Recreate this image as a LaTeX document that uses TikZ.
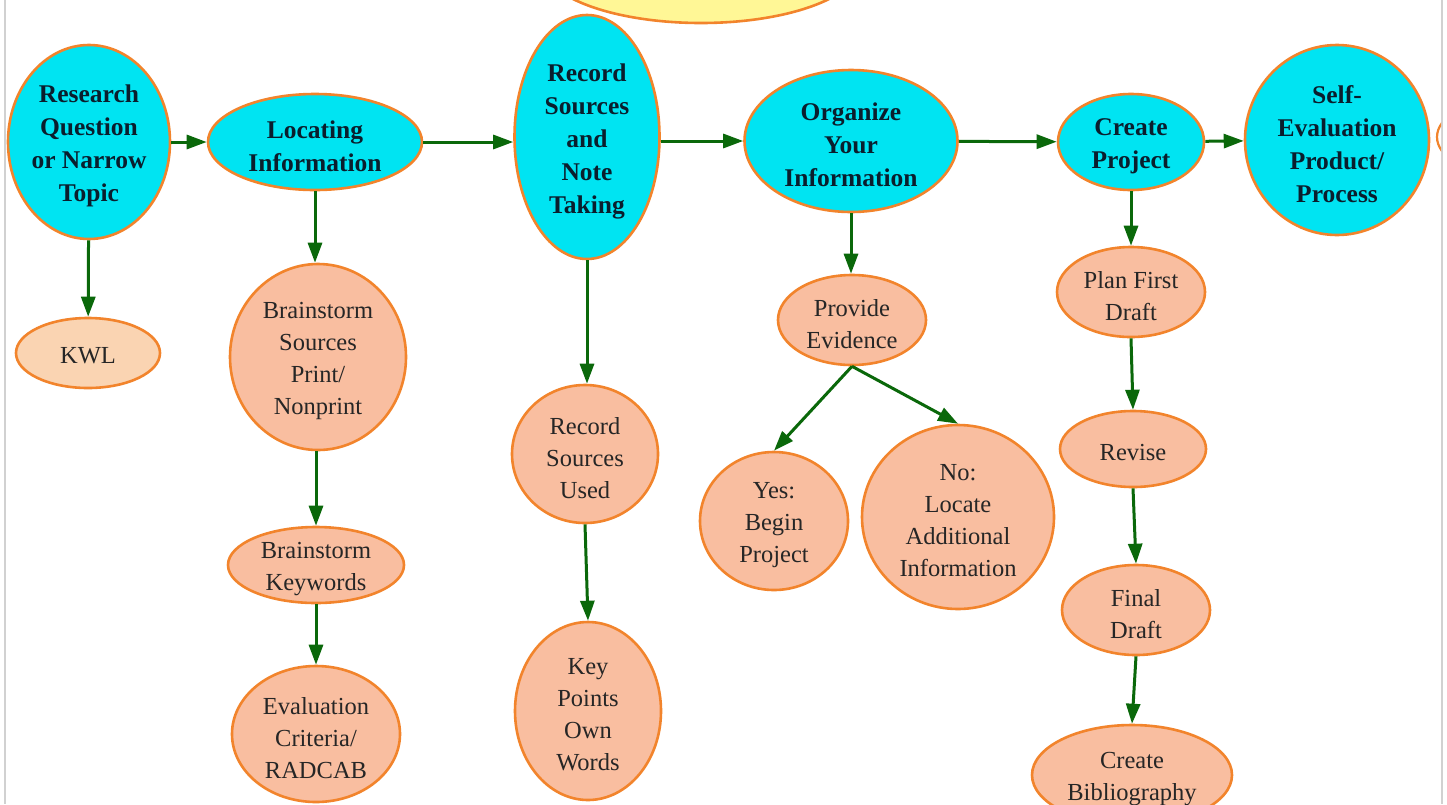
\documentclass[tikz,border=0pt]{standalone}
\usepackage{fontspec}
\setmainfont{Liberation Serif}
\usetikzlibrary{shapes.geometric,arrows.meta}
\definecolor{cyanfill}{RGB}{0,228,242}
\definecolor{salmon}{RGB}{249,190,160}
\definecolor{peach}{RGB}{250,212,178}
\definecolor{orbord}{RGB}{242,132,44}
\definecolor{arrgreen}{RGB}{10,104,10}
\definecolor{navytext}{RGB}{10,30,45}
\definecolor{yellowfill}{RGB}{255,247,150}
\tikzset{
  mainnode/.style={ellipse, draw=orbord, line width=2.6pt, fill=cyanfill, inner sep=0pt},
  subnode/.style={ellipse, draw=orbord, line width=2.6pt, fill=salmon, inner sep=0pt},
  maintext/.style={inner sep=0pt, align=center, text=navytext, font=\fontsize{25.5}{33}\selectfont\bfseries},
  subtext/.style={inner sep=0pt, align=center, text=black!85, font=\fontsize{24.5}{32}\selectfont},
  flow/.style={draw=arrgreen, line width=3pt, -{Triangle[length=20pt,width=14pt]}},
}
\begin{document}
\begin{tikzpicture}[x=1pt,y=-1pt]
\useasboundingbox (0,0) rectangle (1447,804);
\fill[white] (0,0) rectangle (1447,804);
\draw[black!18, line width=1.2pt] (5,0) -- (5,804);
\draw[black!18, line width=1.2pt] (1442,0) -- (1442,804);
\begin{scope}
\clip (0,0) rectangle (1447,804);
\draw[orbord, line width=2.6pt, fill=yellowfill] (701,-37) ellipse [x radius=160, y radius=60];
\end{scope}
\begin{scope}
\clip (1430,0) rectangle (1441,804);
\draw[orbord, line width=2.2pt, fill=white] (1500,137) ellipse [x radius=63, y radius=36];
\end{scope}

% main row
\node[mainnode, minimum width=162, minimum height=194] (rq) at (89,142) {};
\node[mainnode, minimum width=214, minimum height=96] (loc) at (315,142) {};
\node[mainnode, minimum width=145, minimum height=244] (rec) at (587,137) {};
\node[mainnode, minimum width=213, minimum height=142] (org) at (851,141) {};
\node[mainnode, minimum width=146, minimum height=96] (cp) at (1131,142) {};
\node[mainnode, minimum width=184, minimum height=190] (se) at (1337,140) {};
\node[maintext] (rqt) at ([yshift=-4pt]rq.center) {Research\\Question\\or Narrow\\Topic};
\node[maintext] (loct) at ([yshift=-4pt]loc.center) {Locating\\Information};
\node[maintext] (rect) at ([yshift=-4pt]rec.center) {Record\\Sources\\and\\Note\\Taking};
\node[maintext] (orgt) at ([yshift=-4pt]org.center) {Organize\\Your\\Information};
\node[maintext] (cpt) at ([yshift=-4pt]cp.center) {Create\\Project};
\node[maintext] (set) at ([yshift=-4pt]se.center) {Self-\\Evaluation\\Product/\\Process};

% sub nodes
\node[subnode, fill=peach, minimum width=144, minimum height=70] (kwl) at (88,353) {};
\node[subnode, minimum width=176, minimum height=186] (bs) at (318,357) {};
\node[subnode, minimum width=176, minimum height=76] (bk) at (316,565) {};
\node[subnode, minimum width=168, minimum height=136] (ev) at (316,734) {};
\node[subnode, minimum width=146, minimum height=138] (rsu) at (585,454) {};
\node[subnode, minimum width=146, minimum height=178] (kp) at (588,711) {};
\node[subnode, minimum width=148, minimum height=90] (pe) at (852,320) {};
\node[subnode, minimum width=148, minimum height=138] (yes) at (774,521) {};
\node[subnode, minimum width=192, minimum height=184] (no) at (958,517) {};
\node[subnode, minimum width=148, minimum height=90] (pfd) at (1131,292) {};
\node[subnode, minimum width=146, minimum height=76] (rev) at (1133,449) {};
\node[subnode, minimum width=148, minimum height=90] (fd) at (1136,610) {};
\node[subnode, minimum width=200, minimum height=100] (bib) at (1132,775) {};
\node[subtext] (kwlt) at ([yshift=-3pt]kwl.center) {KWL};
\node[subtext] (bst) at ([yshift=-4pt]bs.center) {Brainstorm\\Sources\\Print/\\Nonprint};
\node[subtext] (bkt) at ([yshift=-4pt]bk.center) {Brainstorm\\Keywords};
\node[subtext] (evt) at ([yshift=-4pt]ev.center) {Evaluation\\Criteria/\\RADCAB};
\node[subtext] (rsut) at ([yshift=-4pt]rsu.center) {Record\\Sources\\Used};
\node[subtext] (kpt) at ([yshift=-4pt]kp.center) {Key\\Points\\Own\\Words};
\node[subtext] (pet) at ([yshift=-4pt]pe.center) {Provide\\Evidence};
\node[subtext] (yest) at ([yshift=-4pt]yes.center) {Yes:\\Begin\\Project};
\node[subtext] (not) at ([yshift=-4pt]no.center) {No:\\Locate\\Additional\\Information};
\node[subtext] (pfdt) at ([yshift=-4pt]pfd.center) {Plan First\\Draft};
\node[subtext] (revt) at ([yshift=-3pt]rev.center) {Revise};
\node[subtext] (fdt) at ([yshift=-4pt]fd.center) {Final\\Draft};
\node[subtext] (bibt) at ([yshift=-4pt]bib.center) {Create\\Bibliography};

% connectors
\draw[flow] (rq) -- (loc);
\draw[flow] (loc.east) -- (rec.west |- loc.east);
\draw[flow] (rec.east |- org.west) -- (org.west);
\draw[flow] (org) -- (cp);
\draw[flow] (cp) -- (se);
\draw[flow] (rq) -- (kwl);
\draw[flow] (loc) -- (loc |- bs.north);
\draw[flow] (bs.south -| bk) -- (bk);
\draw[flow] (bk) -- (ev);
\draw[flow] (rec) -- (rec |- rsu.north);
\draw[flow] (rsu.south) -- (kp.north);
\draw[flow] (org) -- (org |- pe.north);
\draw[flow] (pe.south) -- (yes.north);
\draw[flow] (pe.south) -- (no.north);
\draw[flow] (cp) -- (cp |- pfd.north);
\draw[flow] (pfd.south) -- (rev.north);
\draw[flow] (rev.south) -- (fd.north);
\draw[flow] (fd.south) -- (bib.north);
\end{tikzpicture}
\end{document}
